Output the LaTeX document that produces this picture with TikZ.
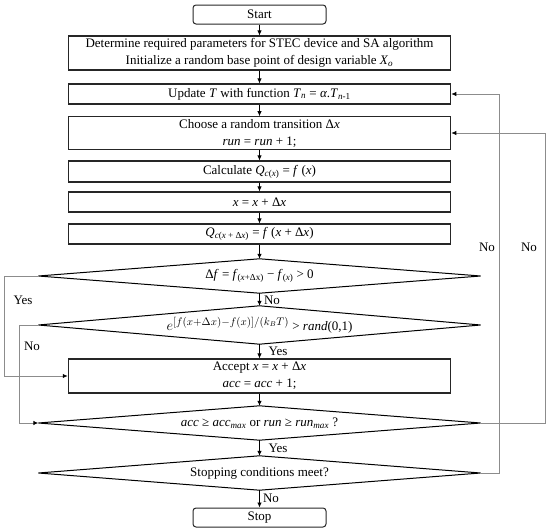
\documentclass[tikz,border=0pt]{standalone}
\usepackage{fontspec}
\setmainfont{Liberation Serif}
\usetikzlibrary{arrows.meta}
\newcommand{\mysub}[1]{\textsubscript{#1}}
\newcommand{\iv}[1]{\textit{#1}}
\begin{document}
\begin{tikzpicture}[x=1pt,y=-1pt,
  font=\fontsize{13}{17}\selectfont,
  box/.style={draw=black!85, line width=1.1pt, minimum width=382.4pt, inner sep=0pt, align=center},
  term/.style={draw=black!85, line width=1pt, rounded corners=3pt, minimum width=133pt, minimum height=19pt, inner sep=0pt},
  dia/.style={minimum width=442pt, inner sep=0pt},
  diaedge/.style={draw=black, line width=1pt, line join=miter},
  flow/.style={-{Latex[length=5pt,width=4.5pt]}, line width=0.8pt, draw=black},
  fb/.style={-{Latex[length=5pt,width=4.5pt,color=black]}, line width=0.9pt, draw=black!45},
  lbl/.style={inner sep=0pt}]
\useasboundingbox (0,0) rectangle (550,530);

\node[term] (start) at (259.5,14.5) {Start};
\node[box, minimum height=34pt] (init) at (259.5,53) {Determine required parameters for STEC device and SA algorithm\\Initialize a random base point of design variable \iv{X}\mysub{\iv{o}}};
\node[box, minimum height=20pt] (upd) at (259.5,94) {Update \iv{T} with function \iv{T}\mysub{\iv{n}} = \iv{α}.\iv{T}\mysub{\iv{n}-1}};
\node[box, minimum height=32.5pt] (choose) at (259.5,133) {Choose a random transition Δ\iv{x}\\\iv{run} = \iv{run} + 1;};
\node[box, minimum height=21pt] (calc) at (259.5,171.5) {Calculate \iv{Q}\mysub{\iv{c}(\iv{x})} = \iv{f} (\iv{x})};
\node[box, minimum height=20pt] (xup) at (259.5,202) {\iv{x} = \iv{x} + Δ\iv{x}};
\node[box, minimum height=20pt] (qnew) at (259.5,234) {\iv{Q}\mysub{\iv{c}(\iv{x} + Δ\iv{x})} = \iv{f} (\iv{x} + Δ\iv{x})};

\node[dia, minimum height=34pt] (d1) at (259.5,276) {Δ\iv{f} = \iv{f}\mysub{(\iv{x}+Δx)} − \iv{f}\mysub{(\iv{x})} > 0};
\draw[diaedge] (d1.west) -- (d1.north) -- (d1.east) -- (d1.south) -- cycle;

\node[dia, minimum height=38pt] (d2) at (259.5,325) {{\fontsize{15}{17}\selectfont$e^{[f(x+\Delta x)-f(x)]/(k_BT)}$} > \iv{rand}(0,1)};
\draw[diaedge] (d2.west) -- (d2.north) -- (d2.east) -- (d2.south) -- cycle;

\node[box, minimum height=34pt] (acc) at (259.5,376) {Accept \iv{x} = \iv{x} + Δ\iv{x}\\\iv{acc} = \iv{acc} + 1;};

\node[dia, minimum height=34pt] (d3) at (259.5,423) {\iv{acc} ≥ \iv{acc}\mysub{\iv{max}} or \iv{run} ≥ \iv{run}\mysub{\iv{max}} ?};
\draw[diaedge] (d3.west) -- (d3.north) -- (d3.east) -- (d3.south) -- cycle;

\node[dia, minimum height=34pt] (d4) at (259.5,473) {Stopping conditions meet?};
\draw[diaedge] (d4.west) -- (d4.north) -- (d4.east) -- (d4.south) -- cycle;

\node[term] (stop) at (259.5,517.5) {Stop};

% main flow
\draw[flow] (start) -- (init);
\draw[flow] (init) -- (upd);
\draw[flow] (upd) -- (choose);
\draw[flow] (choose) -- (calc);
\draw[flow] (calc) -- (xup);
\draw[flow] (xup) -- (qnew);
\draw[flow] (qnew) -- (d1.north);
\draw[flow] (d1.south) -- (d2.north);
\draw[flow] (d2.south) -- (acc);
\draw[flow] (acc) -- (d3.north);
\draw[flow] (d3.south) -- (d4.north);
\draw[flow] (d4.south) -- (stop);

% feedback lines
\draw[fb] (d1.west) -- ++(-33.5,0) |- (acc.west);
\draw[fb] (d2.west) -- ++(-18.5,0) |- (d3.west);
\draw[fb] (d3.east) -- ++(64.5,0) |- (choose.east);
\draw[fb] (d4.east) -- ++(18.5,0) |- (upd.east);

% labels
\node[lbl] (lno1) at (272,300) {No};
\node[lbl] (lyes1) at (278,351) {Yes};
\node[lbl] (lyes2) at (278,448) {Yes};
\node[lbl] (lno2) at (271,498) {No};
\node[lbl] (lyesl) at (23,300) {Yes};
\node[lbl] (lnol) at (32,346) {No};
\node[lbl] (lnor1) at (487,247) {No};
\node[lbl] (lnor2) at (529,247) {No};
\end{tikzpicture}
\end{document}
